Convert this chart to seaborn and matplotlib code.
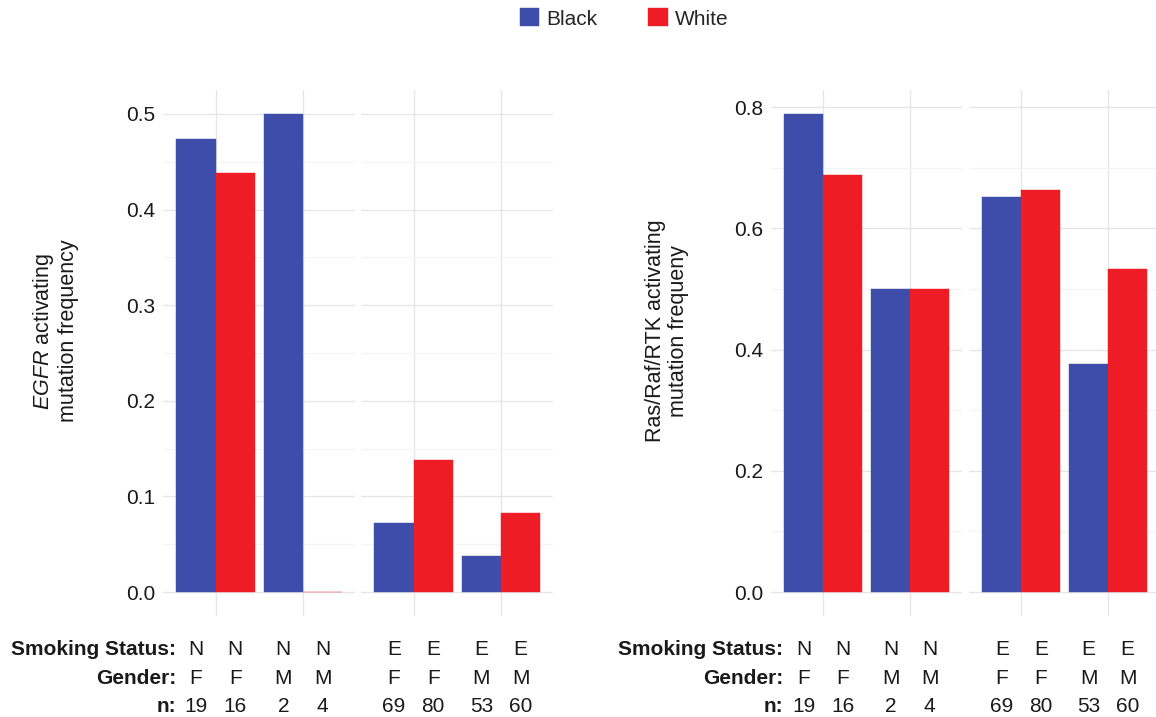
import numpy as np
import pandas as pd
import matplotlib
matplotlib.use("Agg")
import matplotlib.pyplot as plt
from matplotlib.transforms import blended_transform_factory
import seaborn as sns

# ---- data -------------------------------------------------------------
races = ["Black", "White"]
smoking_status = ["N", "E"]          # never / ever smokers
genders = ["F", "M"]

# patient counts per gender (F, M)
n_black_never = [19, 2]
n_white_never = [16, 4]
n_black_ever = [69, 53]
n_white_ever = [80, 60]

# EGFR activating mutation frequency per gender (F, M)
egfr_black_never = [0.474, 0.500]
egfr_white_never = [0.438, 0.000]
egfr_black_ever = [0.072, 0.038]
egfr_white_ever = [0.138, 0.083]

# Ras/Raf/RTK activating mutation frequency per gender (F, M)
ras_black_never = [0.789, 0.500]
ras_white_never = [0.688, 0.500]
ras_black_ever = [0.652, 0.377]
ras_white_ever = [0.663, 0.533]

race_colors = ["#3D4DA9", "#EE1D25"]

rows = []
blocks = {
    "N": (n_black_never, n_white_never, egfr_black_never, egfr_white_never,
          ras_black_never, ras_white_never),
    "E": (n_black_ever, n_white_ever, egfr_black_ever, egfr_white_ever,
          ras_black_ever, ras_white_ever),
}
for status in smoking_status:
    nb, nw, eb, ew, rb, rw = blocks[status]
    for gi, g in enumerate(genders):
        rows.append(dict(status=status, gender=g, race="Black", n=nb[gi],
                         egfr=eb[gi], ras=rb[gi]))
        rows.append(dict(status=status, gender=g, race="White", n=nw[gi],
                         egfr=ew[gi], ras=rw[gi]))
df = pd.DataFrame(rows)

# ---- style ------------------------------------------------------------
sns.set_theme(style="white")
plt.rcParams["font.family"] = ["Liberation Sans", "DejaVu Sans"]
plt.rcParams["mathtext.fontset"] = "custom"
plt.rcParams["mathtext.it"] = "Liberation Sans:italic"
plt.rcParams["mathtext.rm"] = "Liberation Sans"
TXT = "#1a1a1a"
GRID_MAJOR = "#E6E6E6"
GRID_MINOR = "#F4F4F4"
FS = 15

W, H = 1156, 717
fig = plt.figure(figsize=(W / 100, H / 100), dpi=100)


def px_axes(x0, x1, y_top, y_bot):
    return fig.add_axes([x0 / W, 1 - y_bot / H, (x1 - x0) / W, (y_bot - y_top) / H])


panels = [
    dict(col="egfr", facets=[(163.3, 355.3), (361.3, 553.3)],
         ylim=(-0.025, 0.525), major=np.arange(0, 0.51, 0.1),
         minor=np.arange(0.05, 0.51, 0.1), fmt="{:.1f}",
         label_x=176, ylab_x=55,
         ylabel="$\\it{EGFR}$ activating\nmutation frequency"),
    dict(col="ras", facets=[(771.3, 962.3), (969.3, 1160.3)],
         ylim=(-0.0395, 0.8285), major=np.arange(0, 0.81, 0.2),
         minor=np.arange(0.1, 0.81, 0.2), fmt="{:.1f}",
         label_x=783, ylab_x=667,
         ylabel="Ras/Raf/RTK activating\nmutation frequeny"),
]

row_y = [655, 684, 712]
row_names = ["Smoking Status:", "Gender:", "n:"]
legend_handles = None

for p in panels:
    for fi, status in enumerate(smoking_status):
        x0, x1 = p["facets"][fi]
        ax = px_axes(x0, x1, 90, 616)
        sub = df[df["status"] == status]
        sns.barplot(data=sub, x="gender", y=p["col"], hue="race",
                    order=genders, hue_order=races, palette=race_colors,
                    saturation=1, width=0.9, gap=0, errorbar=None, ax=ax)
        if legend_handles is None:
            legend_handles, _ = ax.get_legend_handles_labels()
        if ax.get_legend() is not None:
            ax.get_legend().remove()
        for patch in ax.patches:
            patch.set_edgecolor(patch.get_facecolor())
            patch.set_linewidth(0.3)
            patch.set_alpha(1)

        ax.set_xlim(-0.6, 1.6)
        ax.set_ylim(*p["ylim"])
        ax.set_yticks(p["major"])
        ax.set_yticks(p["minor"], minor=True)
        ax.set_axisbelow(True)
        ax.grid(True, which="major", axis="both", color=GRID_MAJOR, lw=0.95)
        ax.grid(True, which="minor", axis="y", color=GRID_MINOR, lw=0.95)
        for s in ax.spines.values():
            s.set_visible(False)
        ax.tick_params(axis="both", which="both", length=0)
        ax.set_xticklabels([])
        ax.set_xlabel("")
        ax.set_ylabel("")
        if fi == 0:
            ax.set_yticklabels([p["fmt"].format(v) for v in p["major"]],
                               fontsize=FS, color=TXT)
            ax.tick_params(axis="y", pad=6)
        else:
            ax.set_yticklabels([])

        # table of bar attributes below each bar
        tr = blended_transform_factory(ax.transData, fig.transFigure)
        for hi, race in enumerate(races):
            for gi, patch in enumerate(ax.containers[hi]):
                xc = patch.get_x() + patch.get_width() / 2
                rec = sub[(sub["gender"] == genders[gi]) & (sub["race"] == race)].iloc[0]
                for val, yy in zip([rec["status"], rec["gender"], str(rec["n"])], row_y):
                    ax.text(xc, 1 - yy / H, val, transform=tr, ha="center",
                            va="baseline", fontsize=FS, color=TXT, clip_on=False)

    for name, yy in zip(row_names, row_y):
        fig.text(p["label_x"] / W, 1 - yy / H, name, ha="right", va="baseline",
                 fontsize=FS, fontweight="bold", color=TXT)

    fig.text(p["ylab_x"] / W, 1 - 331 / H, p["ylabel"], rotation=90,
             ha="center", va="center", multialignment="center",
             fontsize=15.5, color=TXT, linespacing=1.12)

fig.legend(legend_handles, races, loc="center", ncol=2,
           bbox_to_anchor=(624 / W, 1 - 18.5 / H), frameon=False,
           fontsize=FS, handlelength=0.95, handleheight=0.95,
           handletextpad=0.35, columnspacing=2.4, borderpad=0)

fig.savefig("out.png", dpi=100, facecolor="white")
